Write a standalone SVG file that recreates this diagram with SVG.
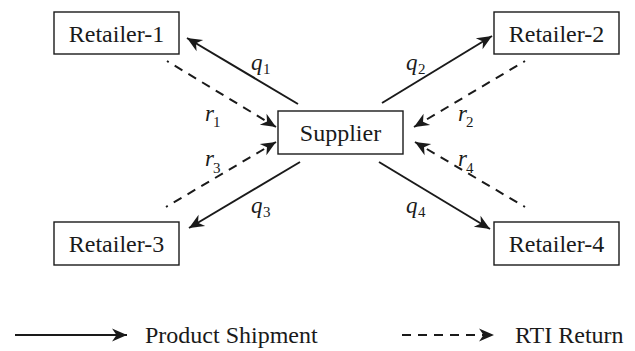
<svg xmlns="http://www.w3.org/2000/svg" width="635" height="351" viewBox="0 0 635 351">
<style>
.box{fill:#fff;stroke:#1a1a1a;stroke-width:1.4}
.lbl{font-family:"Liberation Serif",serif;font-size:24px;fill:#1a1a1a;text-anchor:middle}
.leg{font-family:"Liberation Serif",serif;font-size:24px;fill:#1a1a1a}
.var{font-family:"Liberation Serif",serif;font-style:italic;font-size:23px;fill:#1a1a1a}
.sub{font-family:"Liberation Serif",serif;font-size:15px;fill:#1a1a1a}
.solid{stroke:#1a1a1a;stroke-width:2;fill:none;marker-end:url(#ah)}
.dash{stroke:#1a1a1a;stroke-width:2;fill:none;stroke-dasharray:9 7;marker-end:url(#ah)}
</style>
<defs>
<marker id="ah" markerUnits="userSpaceOnUse" markerWidth="20" markerHeight="18" viewBox="-16 -9 18 18" refX="0" refY="0" orient="auto">
<path d="M0,0 L-15,-6.5 L-10.5,0 L-15,6.5 Z" fill="#1a1a1a"/>
</marker>
</defs>
<g id="connectors">
<line class="solid" x1="298" y1="104" x2="187" y2="38"/>
<line class="solid" x1="382" y1="103" x2="492" y2="36"/>
<line class="solid" x1="300" y1="162" x2="189" y2="228"/>
<line class="solid" x1="379" y1="162" x2="490" y2="229"/>
<line class="dash" x1="167" y1="61" x2="276" y2="127" stroke-dashoffset="7"/>
<line class="dash" x1="525" y1="61" x2="414" y2="127" stroke-dashoffset="7"/>
<line class="dash" x1="166" y1="207" x2="276" y2="142" stroke-dashoffset="7"/>
<line class="dash" x1="525" y1="207" x2="415" y2="142" stroke-dashoffset="7"/>
</g>
<g id="supplier">
<rect class="box" x="278" y="111" width="125" height="43"/>
<text class="lbl" x="340.5" y="141">Supplier</text>
</g>
<g id="retailer-1">
<rect class="box" x="54" y="12" width="125" height="42"/>
<text class="lbl" x="116.5" y="42">Retailer-1</text>
</g>
<g id="retailer-2">
<rect class="box" x="494" y="12" width="125" height="42"/>
<text class="lbl" x="556.5" y="42">Retailer-2</text>
</g>
<g id="retailer-3">
<rect class="box" x="54" y="222" width="125" height="43"/>
<text class="lbl" x="116.5" y="252">Retailer-3</text>
</g>
<g id="retailer-4">
<rect class="box" x="494" y="222" width="125" height="43"/>
<text class="lbl" x="556.5" y="252">Retailer-4</text>
</g>
<g id="labels">
<text class="var" x="251" y="70">q</text><text class="sub" x="263" y="74">1</text>
<text class="var" x="406" y="70">q</text><text class="sub" x="418" y="74">2</text>
<text class="var" x="251" y="213">q</text><text class="sub" x="263" y="217">3</text>
<text class="var" x="406" y="213">q</text><text class="sub" x="418" y="217">4</text>
<text class="var" x="205" y="121">r</text><text class="sub" x="213" y="127">1</text>
<text class="var" x="458" y="121">r</text><text class="sub" x="466" y="127">2</text>
<text class="var" x="205" y="166">r</text><text class="sub" x="213" y="173">3</text>
<text class="var" x="458" y="166">r</text><text class="sub" x="466" y="173">4</text>
</g>
<g id="legend">
<line class="solid" x1="15" y1="335" x2="127" y2="335"/>
<text class="leg" x="145" y="343">Product Shipment</text>
<line class="dash" x1="402" y1="335" x2="494" y2="335"/>
<text class="leg" x="515" y="343">RTI Return</text>
</g>
</svg>
